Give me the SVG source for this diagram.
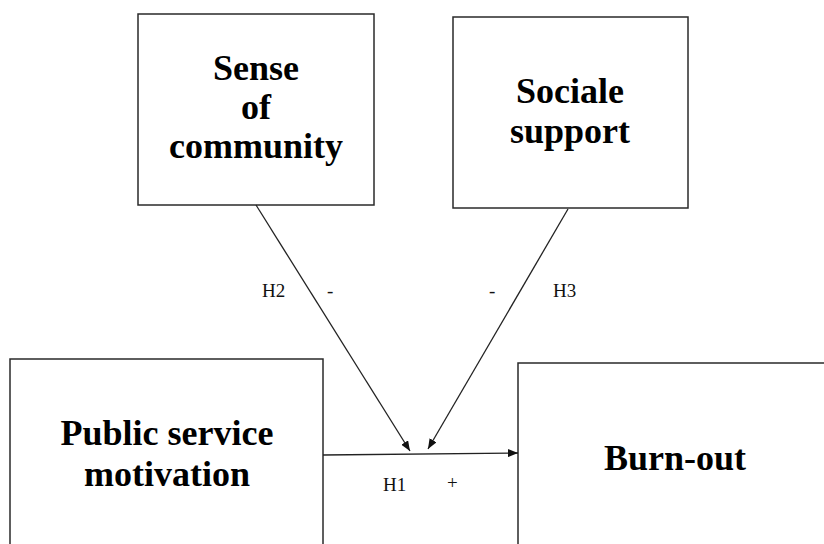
<svg xmlns="http://www.w3.org/2000/svg" width="824" height="544" viewBox="0 0 824 544">
<style>
.box{fill:#fff;stroke:#2a2a2a;stroke-width:1.5}
.t{font-family:"Liberation Serif","Times New Roman",serif;font-weight:bold;font-size:36px;fill:#000;text-anchor:middle}
.l{font-family:"Liberation Serif","Times New Roman",serif;font-size:19px;fill:#111}
.c{stroke:#222;stroke-width:1.3;fill:none;marker-end:url(#ah)}
</style>
<defs>
<marker id="ah" viewBox="0 0 10 8" refX="10" refY="4" markerWidth="10" markerHeight="8" markerUnits="userSpaceOnUse" orient="auto">
<path d="M0,0 L10,4 L0,8 z" fill="#111"/>
</marker>
</defs>
<rect width="824" height="544" fill="#fff"/>
<g id="sense">
<rect class="box" x="138" y="14" width="236" height="191"/>
<text class="t" x="256" y="80">Sense</text>
<text class="t" x="256" y="119">of</text>
<text class="t" x="256" y="158">community</text>
</g>
<g id="social">
<rect class="box" x="453" y="17" width="235" height="191"/>
<text class="t" x="570" y="103">Sociale</text>
<text class="t" x="570" y="143">support</text>
</g>
<g id="psm">
<rect class="box" x="10" y="359" width="313" height="200"/>
<text class="t" x="167" y="445">Public service</text>
<text class="t" x="167" y="486">motivation</text>
</g>
<g id="burnout">
<rect class="box" x="518" y="363" width="330" height="200"/>
<text class="t" x="675" y="470">Burn-out</text>
</g>
<g id="connectors">
<line class="c" x1="256" y1="205" x2="410" y2="451"/>
<line class="c" x1="568" y1="209" x2="428" y2="449"/>
<line class="c" x1="323" y1="455" x2="518" y2="453"/>
<text class="l" x="262" y="297">H2</text>
<text class="l" x="327" y="297">-</text>
<text class="l" x="489" y="297">-</text>
<text class="l" x="553" y="297">H3</text>
<text class="l" x="383" y="491">H1</text>
<text class="l" x="447" y="489">+</text>
</g>
</svg>
